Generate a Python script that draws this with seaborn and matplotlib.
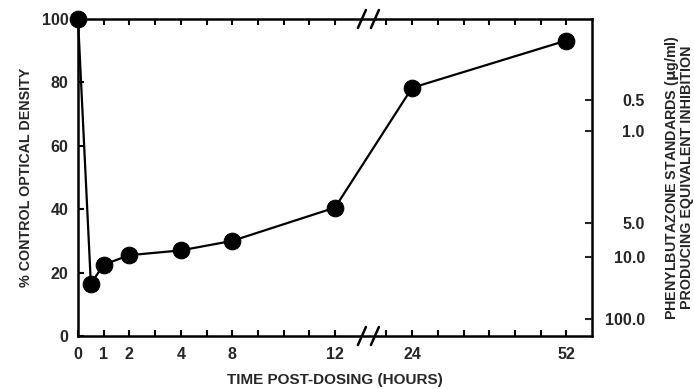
import numpy as np
import pandas as pd
import matplotlib
matplotlib.use("Agg")
import matplotlib.pyplot as plt
import matplotlib.transforms as mtransforms
from matplotlib.ticker import FixedLocator, NullFormatter
import seaborn as sns

# ---- data ----
hours = [0, 0.5, 1, 2, 4, 8, 12, 24, 52]
pct_control_od = [100, 16.5, 22.5, 25.5, 27, 30, 40.5, 78.3, 93.2]

x_tick_hours = [0, 1, 2, 4, 8, 12, 24, 52]
x_tick_labels = ["0", "1", "2", "4", "8", "12", "24", "52"]
y_ticks = [0, 20, 40, 60, 80, 100]
right_tick_labels = ["0.5", "1.0", "5.0", "10.0", "100.0"]
right_tick_equiv = [74.4, 64.6, 35.8, 24.8, 5.4]   # % OD equivalent of each standard

# ---- broken, non-uniform time axis (hours -> axis units) ----
scale_hours = [0, 1, 2, 4, 8, 12, 24, 52, 57.6]
scale_units = [0, 1, 2, 4, 6, 10, 13, 19, 20]
minor_units = list(range(1, 11)) + list(range(12, 20))
break_unit = 11.3


def fwd(h):
    return np.interp(h, scale_hours, scale_units)


def inv(u):
    return np.interp(u, scale_units, scale_hours)


sns.set_theme(style="ticks")
plt.rcParams["font.family"] = ["Liberation Sans", "DejaVu Sans"]
plt.rcParams["font.weight"] = "bold"

fig = plt.figure(figsize=(6.94, 3.89), dpi=100)
L, R, T, B = 78, 592, 19, 336
W, H = 694, 389
ax = fig.add_axes([L / W, 1 - B / H, (R - L) / W, (B - T) / H])

df = pd.DataFrame({"hours": hours, "pct": pct_control_od})
sns.lineplot(data=df, x="hours", y="pct", ax=ax, color="black", lw=1.6,
             marker="o", markersize=12, markeredgecolor="black",
             markerfacecolor="black", sort=False, estimator=None,
             clip_on=False, zorder=5)

ax.set_xscale("function", functions=(fwd, inv))
ax.set_xlim(0, inv(20))
ax.set_ylim(0, 100)

ax.xaxis.set_major_locator(FixedLocator(x_tick_hours))
ax.set_xticklabels(x_tick_labels)
ax.xaxis.set_minor_locator(FixedLocator(list(inv(np.array(minor_units, float)))))
ax.xaxis.set_minor_formatter(NullFormatter())
ax.set_yticks(y_ticks)
ax.set_yticklabels([str(v) for v in y_ticks])

for s in ax.spines.values():
    s.set_linewidth(1.8)
    s.set_color("black")
    s.set_visible(True)

ax.tick_params(axis="x", which="both", direction="in", top=True, bottom=True,
               length=4.5, width=1.5, color="black", labelsize=11.5, pad=8)
ax.tick_params(axis="y", which="both", direction="in", left=True, right=False,
               length=4.5, width=1.5, color="black", labelsize=11.5, pad=7)
for lab in ax.get_xticklabels() + ax.get_yticklabels():
    lab.set_fontweight("bold")

ax.set_xlabel("TIME POST-DOSING (HOURS)", fontsize=11, fontweight="bold", labelpad=8)
ax.set_ylabel("% CONTROL OPTICAL DENSITY", fontsize=10.3, fontweight="bold", labelpad=6)

ax2 = ax.twinx()
ax2.set_ylim(0, 100)
ax2.set_yticks(right_tick_equiv)
ax2.set_yticklabels(right_tick_labels)
for lab in ax2.get_yticklabels():
    lab.set_fontweight("bold")
    lab.set_horizontalalignment("right")
ax2.tick_params(axis="y", direction="in", length=5, width=1.5, labelsize=11.5, pad=38)
for s in ax2.spines.values():
    s.set_visible(False)
ax2.set_ylabel("PHENYLBUTAZONE STANDARDS ($\\mathbf{\\mu}$g/ml)\nPRODUCING EQUIVALENT INHIBITION",
               fontsize=10.3, fontweight="bold", labelpad=13, linespacing=0.95)
ax2.grid(False)
ax.grid(False)

# break marks "//" on top and bottom spines
xb = inv(break_unit)
base = mtransforms.blended_transform_factory(ax.transData, ax.transAxes)
for yax in (0, 1):
    for off in (-6.5, 6.5):
        p0 = base + mtransforms.ScaledTranslation((off - 4) / 100, -9 / 100, fig.dpi_scale_trans)
        p1 = base + mtransforms.ScaledTranslation((off + 4) / 100, 9 / 100, fig.dpi_scale_trans)
        a = p0.transform((xb, yax))
        b = p1.transform((xb, yax))
        fig.add_artist(plt.Line2D([a[0], b[0]], [a[1], b[1]], transform=None,
                                  color="black", lw=1.8, clip_on=False))

fig.savefig("out.png", dpi=100)
